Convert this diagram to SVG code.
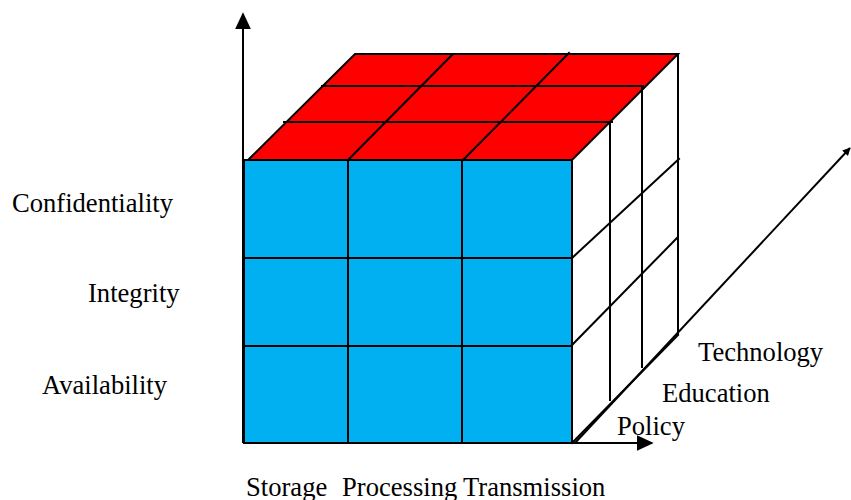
<svg xmlns="http://www.w3.org/2000/svg" width="851" height="500" viewBox="0 0 851 500">
  <style>
    .grid { stroke: #000; stroke-width: 2; fill: none; stroke-linecap: square; }
    .axis { stroke: #000; stroke-width: 2; fill: none; }
    .lbl { font-family: "Liberation Serif", "Times New Roman", serif; font-size: 26.6px; fill: #000; }
  </style>
  <defs>
    <marker id="arrow" viewBox="0 0 10 10" refX="9" refY="5" markerWidth="8" markerHeight="8" markerUnits="userSpaceOnUse" orient="auto">
      <path d="M0,0 L10,5 L0,10 Z" fill="#000"/>
    </marker>
    <marker id="arrowBig" viewBox="0 0 10 10" refX="9" refY="5" markerWidth="17" markerHeight="16" markerUnits="userSpaceOnUse" orient="auto" preserveAspectRatio="none">
      <path d="M0,0 L10,5 L0,10 Z" fill="#000"/>
    </marker>
  </defs>

  <rect width="851" height="500" fill="#fff"/>

  <!-- Top face -->
  <g id="top-face">
    <polygon points="248,160 355,54 678,54 572,160" fill="#FF0000"/>
    <line class="grid" x1="322" y1="86" x2="643" y2="86"/>
    <line class="grid" x1="284" y1="122" x2="612" y2="122"/>
    <line class="grid" x1="348" y1="160" x2="452" y2="55"/>
    <line class="grid" x1="463" y1="160" x2="569" y2="53"/>
    <polygon class="grid" points="248,160 355,54 678,54 572,160"/>
  </g>

  <!-- Front face -->
  <g id="front-face">
    <rect x="244" y="160" width="328" height="283" fill="#00B0F0"/>
    <line class="grid" x1="348" y1="160" x2="348" y2="443"/>
    <line class="grid" x1="462" y1="160" x2="462" y2="443"/>
    <line class="grid" x1="244" y1="258" x2="572" y2="258"/>
    <line class="grid" x1="244" y1="346" x2="572" y2="346"/>
    <rect class="grid" x="244" y="160" width="328" height="283"/>
  </g>

  <!-- Right face -->
  <g id="right-face">
    <line class="grid" x1="610" y1="122" x2="610" y2="400"/>
    <line class="grid" x1="642" y1="88" x2="642" y2="367"/>
    <line class="grid" x1="678" y1="54" x2="678" y2="334"/>
    <line class="grid" x1="572" y1="258" x2="679" y2="159"/>
    <line class="grid" x1="572" y1="345" x2="677" y2="238"/>
    <line class="grid" x1="572" y1="443" x2="678" y2="335"/>
  </g>

  <!-- Axes -->
  <g id="axes">
    <line class="axis" x1="243" y1="443" x2="243" y2="14" marker-end="url(#arrowBig)"/>
    <line class="axis" x1="243" y1="443" x2="652" y2="443" marker-end="url(#arrowBig)"/>
    <line class="axis" x1="575" y1="443" x2="850" y2="148" marker-end="url(#arrow)"/>
  </g>

  <!-- Labels -->
  <g id="labels">
    <text class="lbl" x="12" y="212">Confidentiality</text>
    <text class="lbl" x="88" y="302">Integrity</text>
    <text class="lbl" x="42" y="394">Availability</text>
    <text class="lbl" x="698" y="361">Technology</text>
    <text class="lbl" x="662" y="402">Education</text>
    <text class="lbl" x="617" y="435">Policy</text>
    <text class="lbl" x="246" y="496">Storage</text>
    <text class="lbl" x="342" y="496">Processing</text>
    <text class="lbl" x="463" y="496">Transmission</text>
  </g>
</svg>
